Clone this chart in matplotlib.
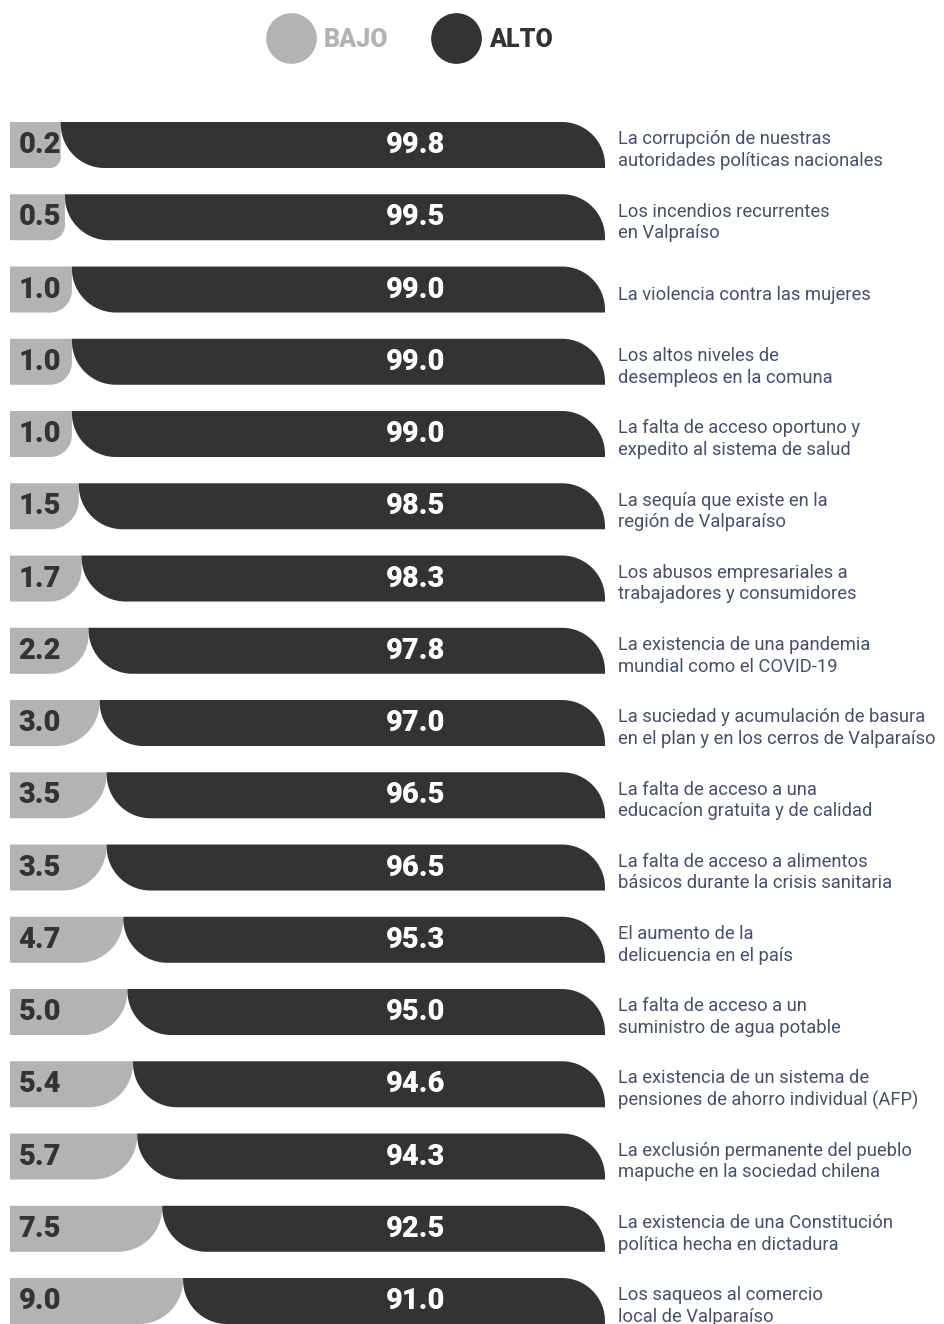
import matplotlib
matplotlib.use("Agg")
import matplotlib.pyplot as plt
from matplotlib.path import Path
from matplotlib.patches import PathPatch
from matplotlib.lines import Line2D
from matplotlib.transforms import blended_transform_factory
from matplotlib import font_manager

# ---------------- data ----------------
bajo = [0.2, 0.5, 1.0, 1.0, 1.0, 1.5, 1.7, 2.2, 3.0, 3.5, 3.5, 4.7, 5.0, 5.4, 5.7, 7.5, 9.0]
alto = [99.8, 99.5, 99.0, 99.0, 99.0, 98.5, 98.3, 97.8, 97.0, 96.5, 96.5, 95.3, 95.0, 94.6, 94.3, 92.5, 91.0]
labels = [
    "La corrupción de nuestras\nautoridades políticas nacionales",
    "Los incendios recurrentes\nen Valpraíso",
    "La violencia contra las mujeres",
    "Los altos niveles de\ndesempleos en la comuna",
    "La falta de acceso oportuno y\nexpedito al sistema de salud",
    "La sequía que existe en la\nregión de Valparaíso",
    "Los abusos empresariales a\ntrabajadores y consumidores",
    "La existencia de una pandemia\nmundial como el COVID-19",
    "La suciedad y acumulación de basura\nen el plan y en los cerros de Valparaíso",
    "La falta de acceso a una\neducacíon gratuita y de calidad",
    "La falta de acceso a alimentos\nbásicos durante la crisis sanitaria",
    "El aumento de la\ndelicuencia en el país",
    "La falta de acceso a un\nsuministro de agua potable",
    "La existencia de un sistema de\npensiones de ahorro individual (AFP)",
    "La exclusión permanente del pueblo\nmapuche en la sociedad chilena",
    "La existencia de una Constitución\npolítica hecha en dictadura",
    "Los saqueos al comercio\nlocal de Valparaíso",
]
legend_labels = ["BAJO", "ALTO"]

# ---------------- style ----------------
GRAY = "#b3b3b3"
DARK = "#333333"
TXT = "#45506e"

W, H = 945, 1324
DPI = 100
names = {f.name for f in font_manager.fontManager.ttflist}
NUM_FONT = "Roboto" if "Roboto" in names else "DejaVu Sans"
LAB_FONT = NUM_FONT

fig = plt.figure(figsize=(W / DPI, H / DPI), dpi=DPI)
fig.patch.set_facecolor("white")

# bar axes: spans pixel x 10..605, pixel y 100..1324
AX_L, AX_R, AX_T = 10, 605, 100
ax = fig.add_axes([AX_L / W, 0, (AX_R - AX_L) / W, (H - AX_T) / H])
XMIN, XEND = -3.45, 39.35           # bajo scale start / fixed end of dark bar
YTOP, YBOT = -0.623, 16.318
ax.set_xlim(XMIN, XEND)
ax.set_ylim(YBOT, YTOP)
ax.axis("off")

sx = (XEND - XMIN) / (AX_R - AX_L)   # data units per px (x)
sy = (YBOT - YTOP) / (H - AX_T)      # data units per px (y, downwards)
BAR_H = 46 * sy
K = 0.5523


def shape(x0, x1, yt, yb, r_tl=0, r_tr=0, r_br=0, r_bl=0):
    def rr(r):
        return r * sx, r * sy
    tlx, tly = rr(r_tl); trx, try_ = rr(r_tr); brx, bry = rr(r_br); blx, bly = rr(r_bl)
    v, c = [], []
    v.append((x0 + tlx, yt)); c.append(Path.MOVETO)
    v.append((x1 - trx, yt)); c.append(Path.LINETO)
    if r_tr:
        v += [(x1 - trx + K * trx, yt), (x1, yt + try_ - K * try_), (x1, yt + try_)]
        c += [Path.CURVE4] * 3
    v.append((x1, yb - bry)); c.append(Path.LINETO)
    if r_br:
        v += [(x1, yb - bry + K * bry), (x1 - brx + K * brx, yb), (x1 - brx, yb)]
        c += [Path.CURVE4] * 3
    v.append((x0 + blx, yb)); c.append(Path.LINETO)
    if r_bl:
        v += [(x0 + blx - K * blx, yb), (x0, yb - bly + K * bly), (x0, yb - bly)]
        c += [Path.CURVE4] * 3
    v.append((x0, yt + tly)); c.append(Path.LINETO)
    if r_tl:
        v += [(x0, yt + tly - K * tly), (x0 + tlx - K * tlx, yt), (x0 + tlx, yt)]
        c += [Path.CURVE4] * 3
    v.append(v[0]); c.append(Path.CLOSEPOLY)
    return Path(v, c)


lab_tr = blended_transform_factory(fig.transFigure, ax.transData)

for i, (b, a, lab) in enumerate(zip(bajo, alto, labels)):
    yt, yb = i - BAR_H / 2, i + BAR_H / 2
    width_px = (b - XMIN) / sx
    r_gray = max(0, min(44, width_px - 40))
    ax.add_patch(PathPatch(shape(XMIN, b, yt, yb, r_br=r_gray), fc=GRAY, ec="none"))
    ax.add_patch(PathPatch(shape(b, XEND, yt, yb, r_bl=44, r_tr=43), fc=DARK, ec="none"))
    ax.annotate(f"{b:.1f}", (XMIN, i), xytext=(6.2, 0), textcoords="offset points",
                ha="left", va="center", fontsize=21, fontweight="heavy",
                color=DARK, family=NUM_FONT)
    ax.text(416 / W, i, f"{a:.1f}", transform=lab_tr, ha="center", va="center",
            fontsize=21, fontweight="heavy", color="white", family=NUM_FONT)
    ax.text(618 / W, i + 0.07, lab, transform=lab_tr, ha="left", va="center",
            fontsize=13.2, fontweight="normal", color=TXT, family=LAB_FONT,
            linespacing=1.25, clip_on=False)

MS = 36.5
handles = [Line2D([], [], ls="none", marker="o", ms=MS, mfc=GRAY, mec="none"),
           Line2D([], [], ls="none", marker="o", ms=MS, mfc=DARK, mec="none")]
fig.legend(handles, legend_labels, loc="center", bbox_to_anchor=(0.433, 1 - 40 / H),
           ncol=2, frameon=False, handlelength=MS / 18, handletextpad=0.3,
           columnspacing=1.7, labelcolor=[GRAY, DARK], borderpad=0,
           prop=dict(family=NUM_FONT, weight="heavy", size=18))

fig.savefig("out.png", dpi=DPI, facecolor="white")
